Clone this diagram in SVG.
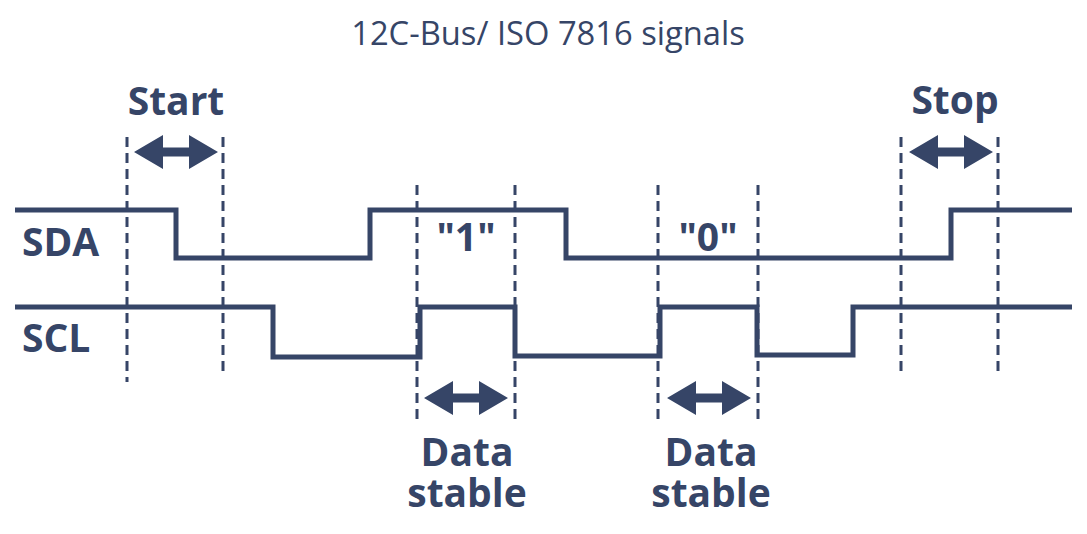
<svg xmlns="http://www.w3.org/2000/svg" xmlns:xlink="http://www.w3.org/1999/xlink" width="1087" height="534" viewBox="0 0 1087 534">
<style>
.sig{fill:none;stroke:#364567;stroke-width:5;stroke-linejoin:miter;stroke-linecap:butt}
.dash{fill:none;stroke:#364567;stroke-width:3;stroke-dasharray:10 6}
.lbl{font-family:"Open Sans","Liberation Sans",sans-serif;font-weight:bold;font-size:39px;fill:#364567}
.title{font-family:"Open Sans","Liberation Sans",sans-serif;font-size:32.7px;fill:#364567}
.arr{fill:#364567}
</style>
<defs>
<polygon id="dbl" points="0,0 29,-17 29,-4.5 55,-4.5 55,-17 84,0 55,17 55,4.5 29,4.5 29,17"/>
</defs>
<rect width="1087" height="534" fill="#ffffff"/>
<g id="title"><text class="title" x="548" y="45" text-anchor="middle">12C-Bus/ ISO 7816 signals</text></g>
<g id="guides">
<line class="dash" x1="127" y1="137" x2="127" y2="382"/>
<line class="dash" x1="223" y1="137" x2="223" y2="374"/>
<line class="dash" x1="417" y1="185" x2="417" y2="421"/>
<line class="dash" x1="515" y1="185" x2="515" y2="421"/>
<line class="dash" x1="658" y1="185" x2="658" y2="421"/>
<line class="dash" x1="758" y1="185" x2="758" y2="421"/>
<line class="dash" x1="901" y1="137" x2="901" y2="374"/>
<line class="dash" x1="998" y1="137" x2="998" y2="374"/>
</g>
<g id="SDA">
<polyline class="sig" points="15,210 176,210 176,258 370,258 370,210 566,210 566,258 951,258 951,210 1072,210"/>
<text class="lbl" x="22" y="256">SDA</text>
</g>
<g id="SCL">
<polyline class="sig" points="15,307 273,307 273,357 420,357 420,307 515,307 515,356 660,356 660,307 757,307 757,355 853,355 853,307 1072,307"/>
<text class="lbl" x="22" y="352">SCL</text>
</g>
<g id="start">
<use href="#dbl" class="arr" transform="translate(134,152)"/>
<text class="lbl" x="176" y="115" text-anchor="middle">Start</text>
</g>
<g id="stop">
<use href="#dbl" class="arr" transform="translate(909,152)"/>
<text class="lbl" x="955" y="114" text-anchor="middle">Stop</text>
</g>
<g id="bit1">
<text class="lbl" x="466" y="251" text-anchor="middle">"1"</text>
</g>
<g id="bit0">
<text class="lbl" x="708" y="251" text-anchor="middle">"0"</text>
</g>
<g id="stable1">
<use href="#dbl" class="arr" transform="translate(424,398)"/>
<text class="lbl" text-anchor="middle"><tspan x="467" y="466">Data</tspan><tspan x="467" y="507">stable</tspan></text>
</g>
<g id="stable0">
<use href="#dbl" class="arr" transform="translate(667,398)"/>
<text class="lbl" text-anchor="middle"><tspan x="711" y="466">Data</tspan><tspan x="711" y="507">stable</tspan></text>
</g>
</svg>
